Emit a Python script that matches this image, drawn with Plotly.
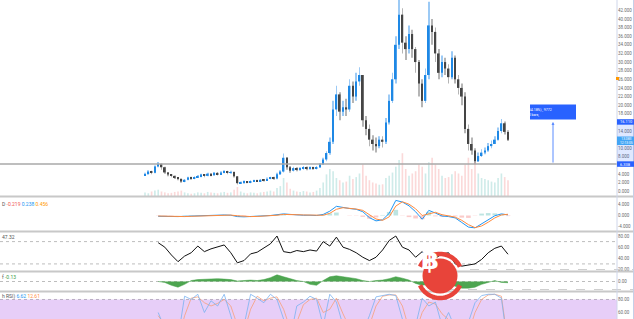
import math
import plotly.graph_objects as go

W, H = 634, 319
PLOT_R = 617

# ---------------- data ----------------
close = [4000, 4600, 4300, 5800, 6400, 5600, 4400, 3900, 3600, 3200,
         2900, 2300, 2700, 3200, 3000, 3300, 3500, 3900, 3600, 4100,
         3800, 4300, 4000, 4400, 4600, 4300, 4500, 3500, 1900, 2000,
         2200, 2100, 2300, 2500, 2400, 2700, 2600, 2900, 3200, 3000,
         4000, 4600, 7800, 5600, 4800, 5400, 5000, 5300, 5600, 5200,
         5500, 5300, 5600, 6300, 7400, 8900, 11500, 19000, 22500, 18500,
         19500, 19000, 24500, 22000, 25500, 27000, 16500, 14500, 12000, 11000,
         10500, 12000, 11500, 16000, 21000, 26000, 34000, 41000, 34500, 33000,
         36500, 33000, 30000, 25000, 21000, 27000, 38500, 37000, 32000, 27500,
         30000, 28500, 26500, 31000, 26000, 24000, 22000, 14500, 11000, 9500,
         7000, 8200, 9000, 9500, 10500, 11000, 12000, 14000, 15800, 13800,
         12000]
high = [4300, 4900, 4800, 6000, 6800, 6500, 5700, 4500, 4000, 3700,
        3300, 3000, 2900, 3400, 3400, 3500, 3800, 4100, 4000, 4300,
        4200, 4500, 4500, 4700, 4900, 4800, 4800, 4600, 3600, 2300,
        2500, 2400, 2600, 2700, 2700, 2900, 2900, 3200, 3400, 3400,
        4300, 4900, 8800, 8000, 5900, 5700, 5600, 5600, 5900, 5800,
        5800, 5700, 5900, 6600, 7800, 9300, 12500, 21000, 24500, 23000,
        21000, 21500, 26000, 25500, 27500, 28800, 27000, 17500, 15500, 13000,
        12500, 12800, 12800, 17000, 22500, 27500, 36000, 44800, 42500, 36000,
        38500, 37500, 33500, 30500, 26000, 28500, 44000, 40000, 38000, 33000,
        31500, 31000, 29500, 32500, 31500, 27000, 25000, 23000, 15500, 12500,
        10000, 9000, 9800, 10200, 11200, 11800, 12800, 14800, 16800, 16200,
        14200]
low = [3600, 3900, 4000, 4200, 5600, 5000, 4100, 3500, 3300, 2900,
       2600, 2000, 2100, 2600, 2700, 2800, 3100, 3300, 3300, 3500,
       3500, 3600, 3700, 3800, 4200, 4000, 4100, 3200, 1600, 1700,
       1800, 1900, 1900, 2200, 2200, 2300, 2300, 2500, 2800, 2700,
       2800, 3800, 4400, 5000, 4300, 4600, 4700, 4800, 5000, 4900,
       5000, 5000, 5100, 5400, 6100, 7000, 8500, 11000, 17500, 16500,
       17500, 17500, 18500, 20500, 21000, 24500, 15000, 13000, 10500, 9500,
       9000, 10000, 10200, 11000, 15500, 20500, 25000, 33000, 32000, 30500,
       32000, 31000, 27500, 22000, 19500, 20500, 26000, 34000, 30000, 26000,
       26500, 27000, 25000, 26000, 25000, 22500, 20000, 13500, 9500, 8500,
       6300, 6800, 8000, 8600, 9200, 10000, 11000, 11800, 13500, 13200,
       11700]
first_open = 3800
volume = [8, 6, 10, 12, 14, 10, 8, 6, 7, 9,
          10, 12, 8, 6, 5, 6, 8, 7, 6, 9,
          8, 7, 6, 8, 9, 7, 8, 14, 20, 10,
          7, 6, 8, 7, 6, 8, 9, 10, 12, 10,
          18, 22, 40, 30, 16, 12, 10, 9, 11, 10,
          8, 9, 12, 18, 30, 48, 60, 55, 40, 35,
          30, 32, 45, 38, 42, 50, 70, 45, 35, 30,
          28, 25, 26, 40, 45, 52, 65, 80, 95, 60,
          45, 50, 55, 70, 65, 50, 75, 85, 70, 60,
          45, 40, 42, 48, 55, 50, 45, 70, 85, 60,
          75, 50, 40, 38, 35, 32, 30, 40, 50, 42,
          35]

ind_idx = list(range(4, 111, 2))
macd_line = [-0.3, -0.4, -0.5, -0.4, -0.3, -0.2, -0.1, 0.0, 0.1, 0.1,
             0.2, 0.1, -0.4, -0.5, -0.4, -0.3, -0.2, 0.0, 0.3, 0.6,
             0.4, 0.2, 0.1, 0.1, 0.0, 0.4, 1.6, 3.4, 2.9, 2.6,
             2.3, 1.4, -0.8, -2.0, -1.6, 0.8, 5.6, 5.0, 3.6, 1.4,
             -1.4, 1.9, 0.9, -0.2, -0.4, -0.9, -2.6, -4.3, -4.6, -3.2,
             -1.6, -0.1, 0.6, 0.238]
signal_line = [-0.2, -0.3, -0.4, -0.45, -0.4, -0.3, -0.2, -0.1, 0.0, 0.1,
               0.15, 0.15, -0.1, -0.3, -0.4, -0.35, -0.25, -0.1, 0.1, 0.4,
               0.45, 0.3, 0.2, 0.1, 0.05, 0.1, 0.8, 2.3, 2.9, 2.7,
               2.4, 1.9, 0.4, -1.3, -1.8, -0.5, 3.5, 5.1, 4.2, 2.5,
               0.0, 0.6, 1.2, 0.3, -0.2, -0.6, -1.8, -3.4, -4.5, -3.9,
               -2.5, -0.9, 0.2, 0.456]
rsi_vals = [68, 60, 46, 34, 44, 50, 62, 52, 57, 60,
            64, 50, 32, 36, 48, 51, 58, 66, 80, 52,
            50, 54, 52, 55, 53, 70, 62, 78, 60, 56,
            50, 42, 36, 42, 55, 72, 80, 60, 55, 42,
            52, 38, 40, 48, 50, 30, 26, 28, 30, 38,
            50, 58, 62, 47.32]
osc_vals = [0.0, -0.1, -0.4, -0.6, -0.3, 0.1, 0.2, 0.25, 0.3, 0.3,
            0.25, 0.2, 0.05, 0.1, 0.15, 0.1, 0.2, 0.4, 0.7, 0.5,
            0.3, 0.1, 0.0, -0.3, -0.4, 0.1, 0.5, 0.6, 0.5, 0.4,
            0.3, 0.1, 0.0, 0.1, 0.15, 0.3, 0.5, 0.35, 0.15, -0.2,
            -0.4, -0.3, -0.2, -0.1, -0.2, -0.5, -0.7, -0.7, -0.6, -0.3,
            -0.1, 0.1, -0.1, -0.13]
stoch_k = [60, 30, 10, 20, 85, 80, 88, 60, 78, 70,
           88, 55, 20, 40, 88, 82, 75, 88, 80, 50,
           20, 70, 76, 85, 80, 40, 88, 76, 40, 20,
           10, 30, 55, 84, 86, 88, 86, 50, 20, 40,
           82, 70, 76, 40, 60, 20, 10, 45, 75, 86,
           88, 88, 82, 6.62]
stoch_d = [55, 45, 25, 15, 55, 82, 84, 75, 70, 74,
           80, 70, 40, 30, 65, 85, 78, 82, 84, 65,
           35, 45, 72, 80, 82, 60, 65, 82, 58, 30,
           15, 20, 40, 70, 85, 87, 87, 70, 35, 30,
           60, 76, 73, 58, 50, 40, 15, 28, 60, 80,
           87, 88, 85, 12.61]

# price ticks (those hidden under the blue price labels are left out)
price_ticks = [0, 2000, 4000, 8000, 10000, 14000, 18000, 20000, 22000, 24000,
               26000, 28000, 30000, 32000, 34000, 36000, 38000, 40000, 42000, 44000]
price_tick_text = [f"{v // 1000}.000" for v in price_ticks]
macd_ticks, macd_tick_text = [4, 0, -4], ["4.000", "0.000", "-4.000"]
rsi_ticks, rsi_tick_text = [80, 60, 40, 20], ["80.00", "60.00", "40.00", "20.00"]
osc_ticks, osc_tick_text = [0], ["0.00"]
stoch_ticks, stoch_tick_text = [80, 60], ["80.00", "60.00"]

range_low, range_low_text = 6338, "6.338"
range_high, range_high_text = 16110, "16.110"
last_price_text, countdown_text = "13.083", "12:13:05"
measure_text = "9.772 (154.18%) , 9772<br>0 bars,"

# ---------------- helpers ----------------
def fx(px):
    return px / PLOT_R

def fy(py):
    return 1 - py / H

candle_idx = list(range(len(close)))
open_ = [first_open] + close[:-1]
body_lo = [min(o, c) for o, c in zip(open_, close)]
body_h = [max(abs(c - o), 150) for o, c in zip(open_, close)]
wick_h = [h - l for h, l in zip(high, low)]
up = [c >= o for o, c in zip(open_, close)]
body_colors = ["#1e88e5" if u else "#454545" for u in up]
wick_colors = ["#9ccaf5" if u else "#b5b5b5" for u in up]
vol_colors = ["rgba(38,166,154,0.22)" if u else "rgba(239,83,80,0.22)" for u in up]
hist = [m - s for m, s in zip(macd_line, signal_line)]
hist_colors = ["rgba(38,166,154,0.3)" if h >= 0 else "rgba(239,83,80,0.3)" for h in hist]

fig = go.Figure()

fig.add_trace(go.Bar(x=candle_idx, y=volume, marker_color=vol_colors, width=0.5,
                     marker_line_width=0, xaxis="x", yaxis="y2", hoverinfo="skip"))
fig.add_trace(go.Bar(x=candle_idx, y=wick_h, base=low, marker_color=wick_colors, width=0.22,
                     marker_line_width=0, xaxis="x", yaxis="y"))
fig.add_trace(go.Bar(x=candle_idx, y=body_h, base=body_lo, marker_color=body_colors, width=0.5,
                     marker_line_width=0, xaxis="x", yaxis="y"))

fig.add_trace(go.Bar(x=ind_idx, y=hist, marker_color=hist_colors, width=1.4,
                     marker_line_width=0, xaxis="x", yaxis="y3"))
fig.add_trace(go.Scatter(x=ind_idx, y=macd_line, mode="lines", line=dict(color="#2196f3", width=1),
                         xaxis="x", yaxis="y3"))
fig.add_trace(go.Scatter(x=ind_idx, y=signal_line, mode="lines", line=dict(color="#ff8a3d", width=1),
                         xaxis="x", yaxis="y3"))
fig.add_trace(go.Scatter(x=ind_idx, y=rsi_vals, mode="lines", line=dict(color="#111111", width=1),
                         xaxis="x", yaxis="y4"))
fig.add_trace(go.Scatter(x=ind_idx, y=osc_vals, mode="lines", fill="tozeroy",
                         fillcolor="rgba(67,160,71,0.95)", line=dict(color="#43a047", width=0.5),
                         xaxis="x", yaxis="y5"))
fig.add_trace(go.Scatter(x=ind_idx, y=stoch_d, mode="lines", line=dict(color="#f7a07a", width=0.8),
                         xaxis="x", yaxis="y6"))
fig.add_trace(go.Scatter(x=ind_idx, y=stoch_k, mode="lines", line=dict(color="#7ab3f0", width=0.8),
                         xaxis="x", yaxis="y6"))

tickfont = dict(family="Roboto", size=4.5, color="#6b6b6b")
def yax(domain, rng, tv=None, tt=None, **kw):
    d = dict(domain=domain, range=rng, side="right", anchor="x", showgrid=False,
             zeroline=False, ticks="", tickfont=tickfont, fixedrange=True)
    if tv is not None:
        d.update(tickmode="array", tickvals=tv, ticktext=tt)
    d.update(kw)
    return d

shapes = []
def line_px(x0, y0, x1, y1, color, width=1, dash="solid"):
    shapes.append(dict(type="line", xref="paper", yref="paper", x0=fx(x0), x1=fx(x1),
                       y0=fy(y0), y1=fy(y1), line=dict(color=color, width=width, dash=dash)))

# stoch band
shapes.append(dict(type="rect", xref="x", yref="y6", x0=-60, x1=160, y0=20, y1=80,
                   fillcolor="rgba(170,80,230,0.28)", line_width=0, layer="below"))
# dotted level lines
for yref, lv in [("y4", 70), ("y4", 30), ("y5", 0), ("y6", 80)]:
    shapes.append(dict(type="line", xref="paper", yref=yref, x0=0, x1=1, y0=lv, y1=lv,
                       line=dict(color="#bdbdbd", width=1, dash="dot"), layer="below"))
# horizontal price line
shapes.append(dict(type="line", xref="paper", yref="y", x0=0, x1=1, y0=range_low, y1=range_low,
                   line=dict(color="#a9a9a9", width=1.5)))
# pane separators
for py in [196.5, 231.5, 271.5, 291.5]:
    line_px(0, py, W, py, "#c8c8c8", 2)
# faint dashed artefacts
line_px(470, 269.5, W, 269.5, "#cfcfcf", 1, "dash")
line_px(450, 289.5, W, 289.5, "#cfcfcf", 1, "dash")
# axis lines
line_px(PLOT_R, 0, PLOT_R, H, "#cfd6ea", 1)
line_px(W - 0.5, 0, W - 0.5, H, "#c5cfe8", 1)
# axis highlight band
shapes.append(dict(type="rect", xref="paper", yref="y", x0=1, x1=W / PLOT_R,
                   y0=range_low, y1=range_high, fillcolor="rgba(41,98,255,0.15)", line_width=0))
# orange marker
shapes.append(dict(type="rect", xref="paper", yref="paper", x0=fx(616), x1=fx(619),
                   y0=fy(80), y1=fy(77), fillcolor="#ff9800", line_width=0))

annotations = []
def axis_label(val, text, bg, fg="white", h=5.5):
    pv = 232.0
    shapes.append(dict(type="rect", xref="paper", yref="y", x0=1, x1=W / PLOT_R,
                       y0=val - h / 2 * pv, y1=val + h / 2 * pv, fillcolor=bg, line_width=0))
    annotations.append(dict(xref="paper", yref="y", x=fx(618.5), xanchor="left", y=val, text=text,
                            showarrow=False, borderpad=0,
                            font=dict(family="Roboto", size=4, color=fg)))

axis_label(range_high, range_high_text, "#2962ff")
axis_label(range_low, range_low_text, "#2962ff")
# last price + countdown
shapes.append(dict(type="rect", xref="paper", yref="paper", x0=1, x1=W / PLOT_R,
                   y0=fy(145), y1=fy(136.5), fillcolor="#42a5f5", line_width=0))
annotations.append(dict(xref="paper", yref="paper", x=fx(618.5), xanchor="left", y=fy(140.8),
                        text=last_price_text + "<br>" + countdown_text, showarrow=False,
                        borderpad=0, font=dict(family="Roboto", size=3.3, color="white")))

# measure tool
shapes.append(dict(type="rect", xref="paper", yref="paper", x0=fx(530), x1=fx(576),
                   y0=fy(119.5), y1=fy(104.5), fillcolor="#2962ff", line_width=0))
annotations.append(dict(xref="paper", yref="paper", x=fx(553), y=fy(112), text=measure_text,
                        showarrow=False, borderpad=0,
                        font=dict(family="Roboto", size=3.5, color="white")))
annotations.append(dict(xref="paper", yref="y", x=fx(553), y=range_high, ax=0, ayref="y",
                        ay=range_low, text="", showarrow=True, arrowhead=2, arrowsize=0.6,
                        arrowwidth=1, arrowcolor="#5b8cff"))

# pane headers
hf = dict(family="Roboto", size=5, color="#555555")
def header(py, text):
    annotations.append(dict(xref="paper", yref="paper", x=0, y=fy(py), xanchor="left",
                            yanchor="middle", text=text, showarrow=False, font=hf))
header(203.5, "D <span style='color:#ef5350'>-0.219</span> <span style='color:#2196f3'>0.238</span> "
              "<span style='color:#ff9800'>0.456</span>")
header(236.5, "47.32")
header(277, "f <span style='color:#43a047'>-0.13</span>")
header(296, "h RSI) <span style='color:#2196f3'>6.62</span> <span style='color:#ff8a3d'>12.61</span>")

# bitcoin logo overlay
cx, cy = 440, 276
def arc_path(r, a0, a1, n=30):
    pts = []
    for k in range(n + 1):
        a = math.radians(a0 + (a1 - a0) * k / n)
        pts.append((fx(cx + r * math.cos(a)), fy(cy - r * math.sin(a))))
    return "M " + " L ".join(f"{x:.5f},{y:.5f}" for x, y in pts)
for a0, a1 in [(25, 155), (205, 335)]:
    shapes.append(dict(type="path", xref="paper", yref="paper", path=arc_path(22, a0, a1),
                       line=dict(color="#e8443a", width=4.5)))
r = 17.5
shapes.append(dict(type="circle", xref="paper", yref="paper", x0=fx(cx - r), x1=fx(cx + r),
                   y0=fy(cy + r), y1=fy(cy - r), fillcolor="#e8443a", line_width=0))
annotations.append(dict(xref="paper", yref="paper", x=fx(cx + 1), y=fy(cy + 1), text="<b>฿</b>",
                        showarrow=False, font=dict(family="DejaVu Sans", size=26, color="white")))

fig.update_layout(
    width=W, height=H, margin=dict(l=0, r=W - PLOT_R, t=0, b=0, pad=0),
    paper_bgcolor="white", plot_bgcolor="white", showlegend=False, barmode="overlay",
    xaxis=dict(range=[(0 - 145) / 3.3, (PLOT_R - 145) / 3.3], showgrid=False, zeroline=False,
               showticklabels=False, ticks="", fixedrange=True),
    yaxis=yax([fy(196), 1], [-1067, 44394], price_ticks, price_tick_text),
    yaxis2=dict(domain=[fy(196), 1], range=[0, 435], overlaying="y", visible=False, anchor="x"),
    yaxis3=yax([fy(231), fy(198)], [-5.76, 6.5], macd_ticks, macd_tick_text),
    yaxis4=yax([fy(271), fy(232)], [17.3, 87.2], rsi_ticks, rsi_tick_text),
    yaxis5=yax([fy(291), fy(272)], [-1, 1], osc_ticks, osc_tick_text),
    yaxis6=yax([0, fy(292)], [50, 91.5], stoch_ticks, stoch_tick_text),
    shapes=shapes, annotations=annotations,
)

fig.write_html("out.html")
